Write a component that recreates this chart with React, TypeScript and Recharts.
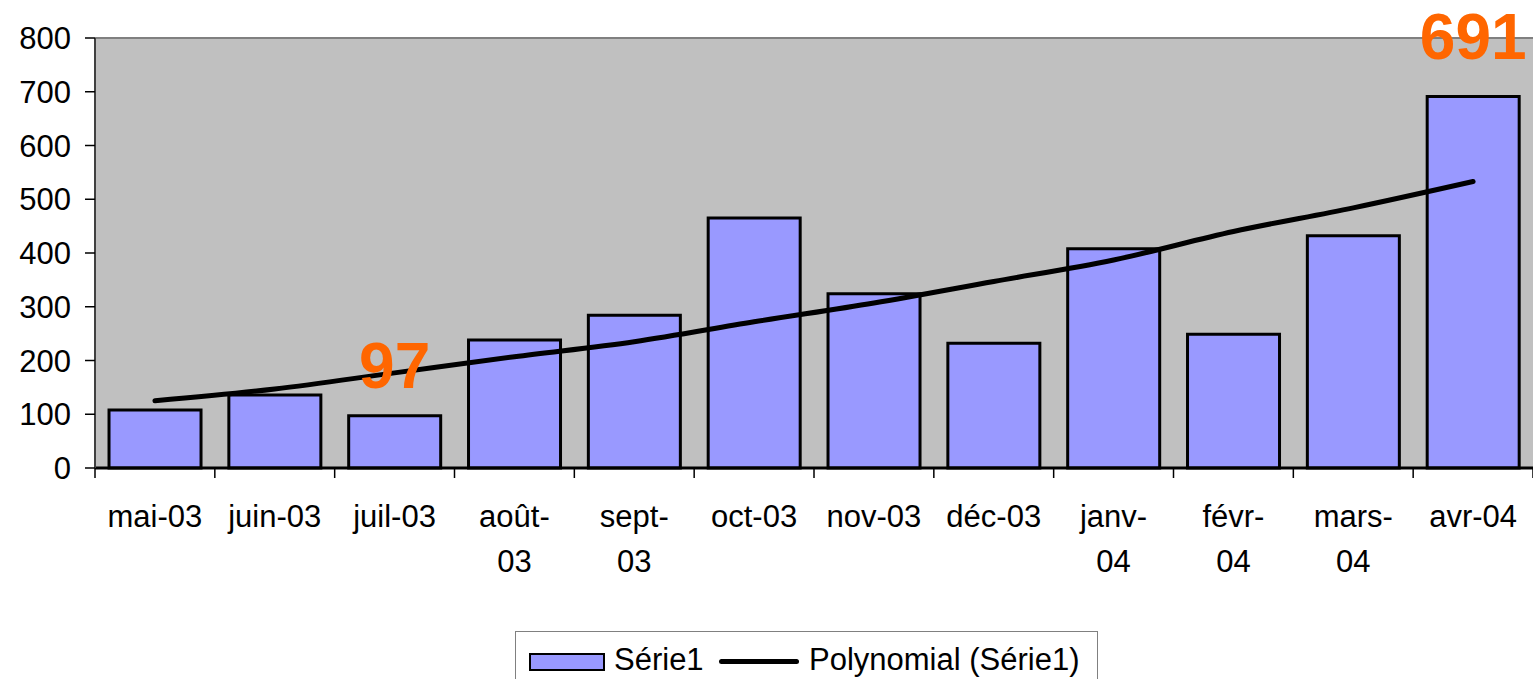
import React from 'react';
import { ComposedChart, Bar, Line, XAxis, YAxis, CartesianGrid, LabelList } from 'recharts';

const categories = [
  'mai-03', 'juin-03', 'juil-03', 'août-03', 'sept-03', 'oct-03',
  'nov-03', 'déc-03', 'janv-04', 'févr-04', 'mars-04', 'avr-04',
];
const serie1 = [108, 136, 97, 238, 284, 465, 324, 232, 408, 249, 432, 691];
const polynomial = [125, 147, 177, 207, 235, 272, 307, 347, 387, 440, 484, 533];
const yTicks = [0, 100, 200, 300, 400, 500, 600, 700, 800];
// labels Excel wrapped onto two lines
const wrappedLabels = ['août-03', 'sept-03', 'janv-04', 'févr-04', 'mars-04'];
// bars whose value is shown as a label
const labelledBars = [2, 11];

const data = categories.map((name, i) => ({
  name,
  serie1: serie1[i],
  poly: polynomial[i],
}));

const FONT = '"Liberation Sans", Arial, sans-serif';
const W = 1533;
const H = 679;
const LEFT = 95;
const TOP = 38;
const BOTTOM = 468;

const XTick = (props: any) => {
  const { x, y, payload, index } = props;
  const step = (W - LEFT) / categories.length;
  const label: string = payload.value;
  const lines = wrappedLabels.includes(label)
    ? [label.slice(0, label.indexOf('-') + 1), label.slice(label.indexOf('-') + 1)]
    : [label];
  return (
    <g>
      <line x1={x - step / 2} x2={x - step / 2} y1={y} y2={y + 10} stroke="#000" strokeWidth={1.5} />
      {index === categories.length - 1 && (
        <line x1={x + step / 2} x2={x + step / 2} y1={y} y2={y + 10} stroke="#000" strokeWidth={1.5} />
      )}
      {lines.map((t, i) => (
        <text key={i} x={x} y={y + 59 + i * 45} textAnchor="middle" fontSize={31} fontFamily={FONT} fill="#000">
          {t}
        </text>
      ))}
    </g>
  );
};

const ValueLabel = (props: any) => {
  const { x, y, width, value, index } = props;
  if (!labelledBars.includes(index)) return null;
  const gap = index === 11 ? 38 : 28;
  return (
    <text
      x={x + width / 2}
      y={y - gap}
      textAnchor="middle"
      fontSize={64}
      fontWeight="bold"
      fontFamily={FONT}
      fill="#FF6600"
    >
      {value}
    </text>
  );
};

export default function App() {
  return (
    <div style={{ position: 'absolute', left: 0, top: 0, width: W, height: H, background: '#fff' }}>
      <ComposedChart
        width={W}
        height={H}
        data={data}
        margin={{ top: TOP, right: 0, left: 0, bottom: 0 }}
        barCategoryGap="11.7%"
      >
        <rect x={LEFT} y={TOP} width={W - LEFT} height={BOTTOM - TOP} fill="#C0C0C0" />
        <CartesianGrid vertical={false} stroke="#222" strokeWidth={1.2} />
        <line x1={LEFT} x2={W} y1={TOP} y2={TOP} stroke="#808080" strokeWidth={2} />
        <XAxis
          dataKey="name"
          height={H - BOTTOM}
          interval={0}
          tickSize={0}
          tickMargin={0}
          tick={<XTick />}
          axisLine={{ stroke: '#000', strokeWidth: 3 }}
          tickLine={false}
        />
        <YAxis
          width={LEFT}
          domain={[0, 800]}
          ticks={yTicks}
          interval={0}
          tickSize={10}
          tickMargin={14}
          tick={{ fontSize: 31, fontFamily: FONT, fill: '#000' }}
          axisLine={{ stroke: '#404040', strokeWidth: 2 }}
          tickLine={{ stroke: '#000', strokeWidth: 1.5 }}
        />
        <Bar dataKey="serie1" fill="#9999FF" stroke="#000" strokeWidth={3} isAnimationActive={false}>
          <LabelList dataKey="serie1" content={<ValueLabel />} />
        </Bar>
        <Line
          dataKey="poly"
          type="monotone"
          stroke="#000"
          strokeWidth={5}
          strokeLinecap="round"
          dot={false}
          activeDot={false}
          isAnimationActive={false}
        />
      </ComposedChart>
      <div
        style={{
          position: 'absolute',
          left: 515,
          top: 631,
          width: 583,
          height: 60,
          border: '1px solid #808080',
          boxSizing: 'border-box',
          fontFamily: FONT,
          fontSize: 31,
          color: '#000',
        }}
      >
        <div
          style={{
            position: 'absolute',
            left: 13,
            top: 21,
            width: 72,
            height: 14,
            background: '#9999FF',
            border: '2px solid #000',
          }}
        />
        <span style={{ position: 'absolute', left: 98, top: 10, lineHeight: '36px', whiteSpace: 'nowrap' }}>Série1</span>
        <div
          style={{
            position: 'absolute',
            left: 203,
            top: 27,
            width: 80,
            height: 5,
            background: '#000',
            borderRadius: 3,
          }}
        />
        <span style={{ position: 'absolute', left: 293, top: 10, lineHeight: '36px', whiteSpace: 'nowrap' }}>
          Polynomial (Série1)
        </span>
      </div>
    </div>
  );
}
